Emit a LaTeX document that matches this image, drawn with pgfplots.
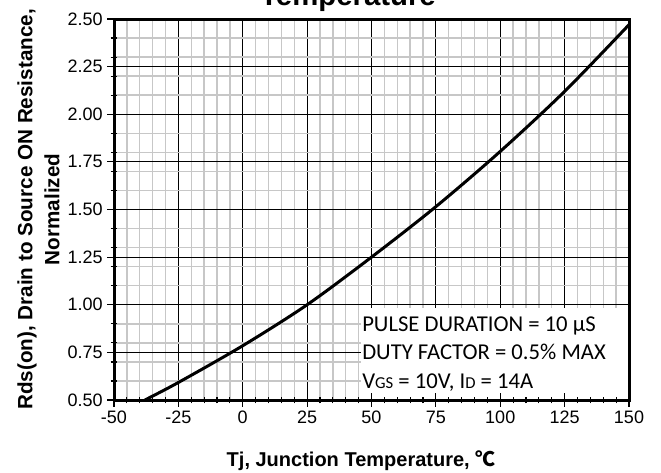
\documentclass[border=0pt]{standalone}
\usepackage{fontspec}
\setmainfont{Liberation Sans}
\newfontfamily\calibri{Carlito}
\newfontfamily\cjk{Noto Sans CJK SC}
\usepackage{pgfplots}
\pgfplotsset{compat=1.18}
\pgfdeclarelayer{box}
\pgfplotsset{
  /pgfplots/layers/withbox/.define layer set={
    axis background,axis grid,box,axis ticks,axis lines,
    axis tick labels,pre main,main,axis descriptions,axis foreground
  }{/pgfplots/layers/standard},
}

\begin{document}
\begin{tikzpicture}
\begin{axis}[
  at={(0,0)}, anchor=south west,
  scale only axis,
  width=386.25pt, height=285.75pt,
  set layers=withbox,
  xmin=-50, xmax=150, ymin=0.5, ymax=2.5,
  xtick={-50,-25,0,25,50,75,100,125,150},
  ytick={0.5,0.75,1,1.25,1.5,1.75,2,2.25,2.5},
  minor x tick num=4,
  minor ytick={0.6,0.7,0.8,0.9,1.1,1.2,1.3,1.4,1.6,1.7,1.8,1.9,2.1,2.2,2.3,2.4},
  grid=both,
  minor grid style={draw=black!22, line width=1.1pt},
  major grid style={draw=black, line width=0.8pt},
  axis line style={line width=2.25pt},
  tick align=center, tick pos=left,
  major tick length=10pt, minor tick length=5pt,
  tick style={black, line width=0.9pt},
  ticklabel style={font=\fontsize{13.5}{16}\selectfont},
  /pgf/number format/assume math mode=true,
  yticklabel style={/pgf/number format/.cd, fixed, fixed zerofill, precision=2},
  clip=false,
]
  % white panel behind the test conditions
  \addplot[fill=white, draw=none, on layer=box, forget plot]
    coordinates {(45.8,0.985)(150,0.985)(150,0.5)(45.8,0.5)} -- cycle;

  \addplot[black, line width=2.25pt, smooth] coordinates {
    (-38,0.5)(-25,0.592)(0,0.785)(25,1.0)(50,1.25)(75,1.515)
    (100,1.805)(125,2.12)(150,2.47)};
\end{axis}

\node[font=\bfseries\fontsize{22}{26}\selectfont, anchor=base] at (175.5pt,295.5pt) {Temperature};
\node[rotate=90, font=\bfseries\fontsize{15.5}{18}\selectfont] at (-65.25pt,142.9pt)
  {Rds(on), Drain to Source ON Resistance,};
\node[rotate=90, font=\bfseries\fontsize{15.5}{18}\selectfont] at (-46.5pt,142.9pt) {Normalized};
\node[font=\bfseries\fontsize{15}{18}\selectfont, anchor=base] at (185.25pt,-49.5pt)
  {Tj, Junction Temperature, {\cjk ℃}};

\begin{scope}[every node/.style={anchor=base west, inner sep=0pt, font=\calibri\fontsize{17}{20}\selectfont}]
  \node at (186pt,51.4pt) {PULSE DURATION = 10 µS};
  \node at (186pt,30.4pt) {DUTY FACTOR = 0.5\% MAX};
  \node at (186pt,9pt) {V{\fontsize{12.5}{14}\selectfont GS} = 10V, I{\fontsize{12.5}{14}\selectfont D} = 14A};
\end{scope}

\pgfresetboundingbox
\useasboundingbox (-85.5pt,-54pt) rectangle (410.25pt,300pt);
\end{tikzpicture}
\end{document}
